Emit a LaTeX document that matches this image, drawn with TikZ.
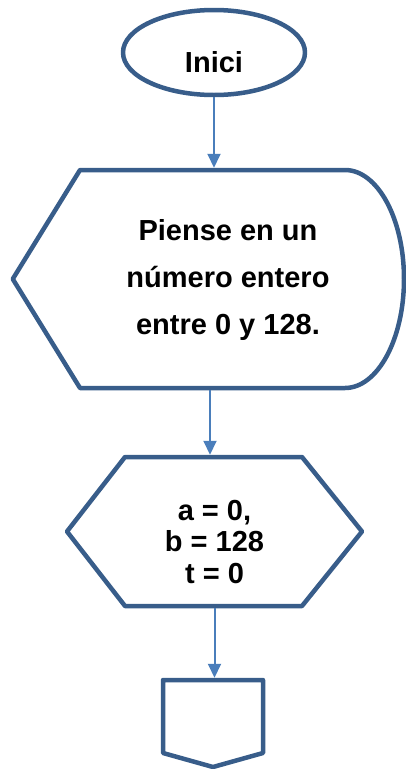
\documentclass[tikz,border=0pt]{standalone}
\usepackage{fontspec}
\setmainfont{Liberation Sans}
\usetikzlibrary{shapes.geometric,arrows.meta}
\definecolor{edgeblue}{RGB}{56,93,138}
\definecolor{arrowblue}{RGB}{74,126,187}
\begin{document}
\begin{tikzpicture}[x=1pt,y=-1pt,
  shapeline/.style={draw=edgeblue,line width=4.5pt,line join=round},
  frame/.style={inner sep=0pt,outer sep=2.25pt},
  flow/.style={draw=arrowblue,line width=2pt,-{Triangle[width=13pt,length=14pt]}},
  lbl/.style={font=\fontsize{29}{31.5}\selectfont\bfseries,align=center,text=black}]
\useasboundingbox (0,0) rectangle (406,769);

% start ellipse
\node[ellipse,shapeline,minimum width=182pt,minimum height=85pt,inner sep=0pt,outer sep=2.25pt] (start) at (214,52.5) {};
\node[lbl] (starttext) at (214,62) {Inici};

% display shape
\node[frame,minimum width=390pt,minimum height=218pt] (disp) at (210,279) {};
\draw[shapeline] (disp.west) -- (80,170) -- (345,170)
  arc[start angle=90,end angle=-90,x radius=59pt,y radius=109pt] -- (80,388) -- cycle;
\node[lbl,font=\fontsize{29}{47}\selectfont\bfseries] (disptext) at (228,280) {Piense en un\\número entero\\entre 0 y 128.};

% preparation hexagon
\node[frame,minimum width=295pt,minimum height=149pt] (prep) at (214.5,531.5) {};
\draw[shapeline] (67,531.5) -- (125,457) -- (302,457) -- (362,531.5) -- (302,606) -- (125,606) -- cycle;
\node[lbl] (preptext) at (214.5,542) {a = 0,\\b = 128\\t = 0};

% off-page connector
\node[frame,minimum width=100pt,minimum height=87pt] (conn) at (213,723.5) {};
\draw[shapeline] (163,680) -- (263,680) -- (263,753) -- (213,767) -- (163,753) -- cycle;

% connectors
\draw[flow] (start.south) -- (start.south |- disp.north);
\draw[flow] (disp.south) -- (disp.south |- prep.north);
\draw[flow] (prep.south) -- (prep.south |- conn.north);
\end{tikzpicture}
\end{document}
